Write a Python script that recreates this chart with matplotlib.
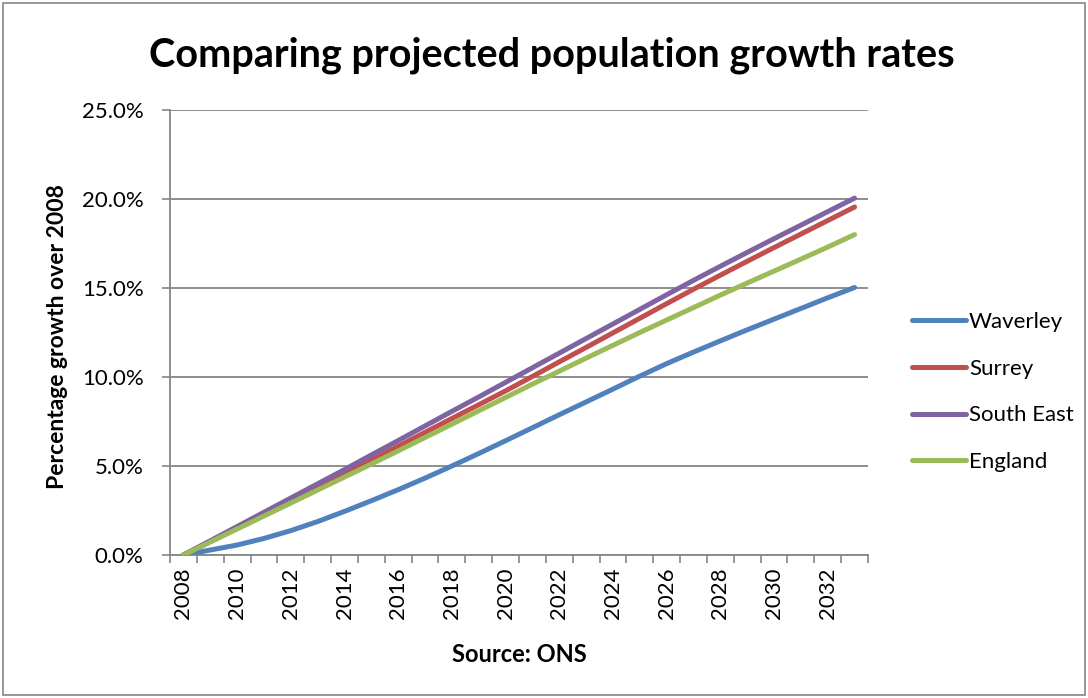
import matplotlib
matplotlib.use('Agg')
import matplotlib.pyplot as plt
import numpy as np
from matplotlib.patches import Rectangle
from matplotlib.ticker import FuncFormatter

plt.rcParams['font.family'] = ['Lato', 'DejaVu Sans']

years = list(range(2008, 2034))
waverley = [0.0, 0.28, 0.56, 0.93, 1.37, 1.88, 2.45, 3.05, 3.67, 4.32,
            5.0, 5.7, 6.42, 7.15, 7.88, 8.6, 9.32, 10.05, 10.75, 11.4,
            12.03, 12.65, 13.25, 13.85, 14.45, 15.03]
surrey = [0.0, 0.76, 1.52, 2.28, 3.04, 3.8, 4.56, 5.34, 6.11, 6.89,
          7.67, 8.44, 9.22, 10.03, 10.85, 11.66, 12.48, 13.3, 14.12, 14.93,
          15.72, 16.5, 17.27, 18.03, 18.79, 19.55]
south_east = [0.0, 0.8, 1.6, 2.4, 3.2, 4.0, 4.8, 5.62, 6.43, 7.25,
              8.07, 8.88, 9.7, 10.52, 11.34, 12.16, 12.98, 13.8, 14.62, 15.43,
              16.22, 17.0, 17.77, 18.53, 19.29, 20.05]
england = [0.0, 0.73, 1.46, 2.19, 2.92, 3.65, 4.38, 5.11, 5.85, 6.6,
           7.35, 8.1, 8.85, 9.6, 10.33, 11.06, 11.78, 12.5, 13.2, 13.9,
           14.6, 15.28, 15.95, 16.62, 17.3, 18.0]
series = [('Waverley', waverley, '#4F81BD'),
          ('Surrey', surrey, '#C0504D'),
          ('South East', south_east, '#8064A2'),
          ('England', england, '#9BBB59')]
yticks = [0, 5, 10, 15, 20, 25]

W, H = 1088, 698
fig = plt.figure(figsize=(W / 100, H / 100), dpi=100)
fig.patches.append(Rectangle((3 / W, 3 / H), 1 - 6 / W, 1 - 6 / H, transform=fig.transFigure,
                             fill=False, edgecolor='#868686', linewidth=1.2))
ax = fig.add_axes([170 / W, 1 - 555 / H, 698 / W, 445 / H])

x = np.arange(len(years))
for name, vals, col in series:
    ax.plot(x, vals, color=col, linewidth=3.6, solid_capstyle='round', label=name, zorder=3)

ax.set_xlim(-0.5, len(years) - 0.5)
ax.set_ylim(0, 25)
ax.set_yticks(yticks)
ax.yaxis.set_major_formatter(FuncFormatter(lambda v, p: '%.1f%%' % v))
ax.set_xticks(x[::2])
ax.set_xticklabels([str(y) for y in years[::2]], rotation=90)
ax.set_xticks(np.arange(-0.5, len(years)), minor=True)
ax.tick_params(axis='x', which='major', length=0, pad=9, labelsize=16)
ax.tick_params(axis='x', which='minor', length=6, color='#868686', width=1.2)
ax.tick_params(axis='y', length=6, color='#868686', width=1.2, labelsize=16, pad=13)
ax.grid(axis='y', color='#868686', linewidth=1.3, zorder=1)
ax.set_axisbelow(True)
for s in ['top', 'right']:
    ax.spines[s].set_visible(False)
for s in ['left', 'bottom']:
    ax.spines[s].set_color('#868686')
    ax.spines[s].set_linewidth(1.3)

fig.text(552 / W, 1 - 55 / H, 'Comparing projected population growth rates',
         ha='center', va='center', fontsize=28.5, fontweight='bold')
fig.text(57 / W, 1 - 337 / H, 'Percentage growth over 2008', rotation=90,
         ha='center', va='center', fontsize=16.5, fontweight='bold')
fig.text(519 / W, 1 - 655 / H, 'Source: ONS',
         ha='center', va='center', fontsize=17, fontweight='bold')

ax.legend(loc='center left', bbox_to_anchor=(892 / W, 1 - 392 / H), bbox_transform=fig.transFigure,
          frameon=False, fontsize=16, handlelength=2.45, handletextpad=0.12, labelspacing=1.2)

plt.savefig('out.png', dpi=100)
